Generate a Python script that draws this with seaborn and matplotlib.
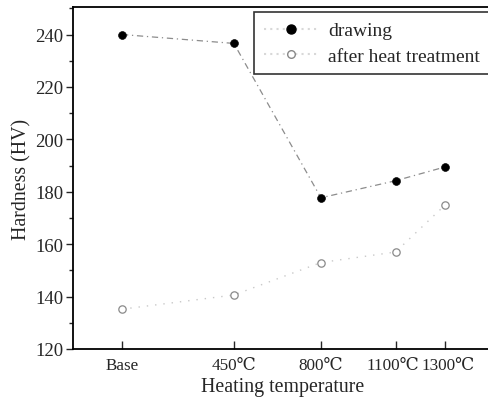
import matplotlib
matplotlib.use("Agg")
import matplotlib.pyplot as plt
import matplotlib.transforms as mtransforms
import seaborn as sns
import pandas as pd
from matplotlib.lines import Line2D
from matplotlib.ticker import MultipleLocator

temps = [0, 450, 800, 1100, 1300]
tick_labels = ["Base", "450\u2103", "800\u2103", "1100\u2103", "1300\u2103"]
drawing = [240, 236.6, 177.7, 184.2, 189.5]
after_heat = [135.2, 140.6, 153.0, 157.0, 175.0]

sns.set_theme(style="ticks")
plt.rcParams["font.family"] = ["Liberation Serif", "DejaVu Serif"]

fig = plt.figure(figsize=(4.88, 4.06), dpi=100)
# right spine sits just outside the picture, as in the reference
ax = fig.add_axes([73/488, 1-350/406, 420/488, (350-8)/406])

df1 = pd.DataFrame({"T": temps, "H": drawing})
df2 = pd.DataFrame({"T": temps, "H": after_heat})

sns.lineplot(data=df1, x="T", y="H", ax=ax, color="#666666", lw=0.9,
             linestyle=(0, (5, 3, 1, 3)), alpha=0.75)
sns.lineplot(data=df2, x="T", y="H", ax=ax, color="#bbbbbb", lw=1.0,
             linestyle=(0, (1, 5)), alpha=0.8)
sns.scatterplot(data=df1, x="T", y="H", ax=ax, color="black", s=32,
                edgecolor="black", zorder=5)
sns.scatterplot(data=df2, x="T", y="H", ax=ax, facecolor="white", s=28,
                edgecolor="#8a8a8a", linewidth=0.9, zorder=5)

ax.set_xlim(-197, 1492)
ax.set_ylim(120, 250.5)
ax.set_xticks(temps)
ax.set_xticklabels(tick_labels)
ax.yaxis.set_major_locator(MultipleLocator(20))
ax.yaxis.set_minor_locator(MultipleLocator(10))
ax.tick_params(axis="y", which="major", direction="out", length=5, width=1, labelsize=13.5, pad=2)
ax.tick_params(axis="y", which="minor", direction="out", length=3, width=1)
ax.tick_params(axis="x", which="major", direction="in", length=6, width=1, labelsize=12.3, pad=6)
# nudge the two crowded right-hand labels apart, as they sit in the reference
shifts = [0, 0, 0, -2.5, 2.5]
for lab, dx in zip(ax.get_xticklabels(), shifts):
    if dx:
        lab.set_transform(lab.get_transform() + mtransforms.ScaledTranslation(dx/100, 0, fig.dpi_scale_trans))
ax.set_xlabel("Heating temperature", fontsize=14.3, labelpad=3)
ax.set_ylabel("Hardness (HV)", fontsize=14.3, labelpad=3)
for s in ax.spines.values():
    s.set_linewidth(1.3)
    s.set_color("black")

handles = [
    Line2D([], [], color="#d8d8d8", linestyle=(0, (1, 2)), marker="o", mfc="black", mec="black", ms=6.5),
    Line2D([], [], color="#d8d8d8", linestyle=(0, (1, 2)), marker="o", mfc="white", mec="#888888", ms=5.5),
]
leg = fig.legend(handles, ["drawing", "after heat treatment"], loc="upper right",
                 bbox_to_anchor=(1.004, 1-13/406), fontsize=14, frameon=True, fancybox=False,
                 handlelength=2.8, borderpad=0.5, labelspacing=0.4, handletextpad=0.5,
                 borderaxespad=0.0)
leg.get_frame().set_edgecolor("black")
leg.get_frame().set_linewidth(1.2)

fig.savefig("out.png", dpi=100)
